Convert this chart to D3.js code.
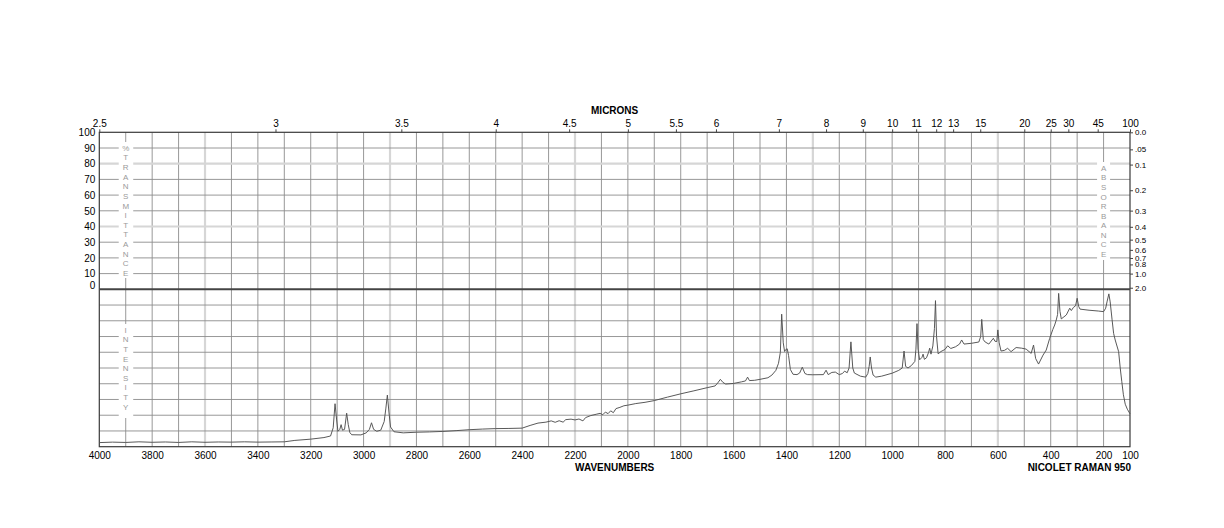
<!DOCTYPE html>
<html>
<head>
<meta charset="utf-8">
<script src="https://cdn.jsdelivr.net/npm/d3@7"></script>
<style>
  html, body { margin: 0; padding: 0; background: #fff; }
  svg { display: block; font-family: "Liberation Sans", Arial, Helvetica, sans-serif; }
</style>
</head>
<body>
<svg id="chart" width="1224" height="528"></svg>
<script>
// ---------- data ----------
const wavenumbers = [
  4000,3950,3900,3850,3800,3750,3700,3650,3600,3550,3500,3450,3400,3350,3300,3260,3200,3150,3125,
  3115,3108,3102,3097,3090,3085,3080,3072,3064,3058,3052,3045,3010,2990,2978,2970,2962,2950,2935,
  2922,2916,2910,2904,2898,2885,2850,2800,2750,2700,2650,2600,2550,2500,2450,2400,2370,2340,2310,
  2290,2275,2260,2245,2235,2215,2200,2185,2170,2160,2140,2120,2105,2095,2085,2075,2065,2055,2045,
  2030,2015,2000,1970,1935,1900,1850,1800,1750,1700,1670,1660,1650,1640,1630,1600,1570,1555,1547,
  1540,1520,1500,1470,1455,1440,1430,1423,1418,1412,1407,1402,1397,1392,1385,1375,1360,1350,1340,
  1330,1320,1300,1260,1250,1242,1228,1215,1200,1188,1180,1170,1163,1156,1149,1143,1120,1100,1092,
  1087,1083,1078,1072,1062,1040,1000,975,962,955,949,940,927,914,910,906,902,896,887,883,878,870,
  862,858,853,846,840,836,832,826,815,800,790,778,760,745,737,728,700,672,665,661,655,648,634,617,
  611,604,600,595,588,575,563,550,531,510,493,474,465,457,446,429,417,404,392,385,379,374,370,365,
  360,350,341,328,322,314,306,300,294,289,255,220,200,192,187,180,175,168,162,156,143,137,131,125,
  118,110,100
];
const intensity = [
  2.6,2.9,2.7,3.1,2.8,3.0,2.7,3.1,2.8,3.0,2.9,3.1,2.9,3.0,3.1,4.0,4.8,5.8,6.8,
  12,27.3,17,9.8,11,14,10.5,11,21.3,14,9,7.6,7.5,8.8,11,15.2,11,9.8,10.5,
  16,24,32.8,22,12.5,9.5,8.8,9.2,9.4,9.7,10.2,10.8,11.2,11.5,11.6,11.8,13.5,15,15.6,
  16.4,15.5,16.5,15.6,17.2,17.5,17,17.6,16.4,18.5,19.8,20.6,21.2,20.3,22,21,22.8,21.6,24.2,
  25,26,26.4,27.4,28.2,29.3,31.5,33.6,35.5,37.5,38.6,40.5,42.8,40.8,39.8,40.2,41.2,41.8,44.2,
  42,42.2,42.8,43.8,45.5,48.5,53,60,84.2,66,60.5,61.8,62.2,58,49,46,45.8,46.8,50.5,
  46.5,45.8,45.7,45.8,48.6,45.8,47.2,47.4,45.8,46.5,48,47,50,66.6,50,46.8,44.8,44.2,46.5,
  51,57,50,45.5,44.2,44.8,46.7,48.5,50,60.8,51,50,51.6,54.2,62,78.2,62,55.2,56.8,58.8,55.5,56.5,
  60,62.6,58.8,64,75,92.8,70,59,60.5,61.8,64.1,62.4,63.5,65.2,67.8,65.2,65.7,66.5,70,80.9,68,66.5,65.2,68.9,
  67,66.8,74.2,66,60.8,61.2,62.5,60.4,63,62.6,62,59.3,64.6,56,52.5,58.2,61.4,68.8,74.5,77.3,80.5,84,97.4,86,
  81.2,82.5,83.7,88,86.5,88.5,89.5,94.3,89,87.4,86.7,86.2,85.8,88,92,97.1,92,81,72,67.8,60.4,50,41.3,33,
  27,23.8,20.9
];
const wnTicks = [4000,3800,3600,3400,3200,3000,2800,2600,2400,2200,2000,1800,1600,1400,1200,1000,800,600,400,200,100];
const gridWavenumbers = d3.range(3900, 100, -100);
const lightWavenumbers = [3600, 2900, 2200, 1300, 600];
const micronTicks = [2.5,3,3.5,4,4.5,5,5.5,6,7,8,9,10,11,12,13,15,20,25,30,45,100];
const transTicks = [0,10,20,30,40,50,60,70,80,90,100];
const lightTrans = [80, 40];
const intensityGrid = [10,20,30,40,50,60,70,80,90];
const absTicks = [0.0,0.05,0.1,0.2,0.3,0.4,0.5,0.6,0.7,0.8,1.0,2.0];
const absLabels = ["0.0",".05","0.1","0.2","0.3","0.4","0.5","0.6","0.7","0.8","1.0","2.0"];
const leftTopLabel = "%TRANSMITTANCE";
const leftBottomLabel = "INTENSITY";
const rightLabel = "ABSORBANCE";

// ---------- layout ----------
const L = 99.3, R = 1130, T = 132.3, M = 289.3, B = 446.7;
const svg = d3.select("#chart");
svg.append("rect").attr("width",1224).attr("height",528).attr("fill","#fff");

const x = d3.scaleLinear().domain([4000,100]).range([L,R]);
const yT = d3.scaleLinear().domain([0,100]).range([M,T]);
const yI = d3.scaleLinear().domain([0,100]).range([B,M]);
const absToT = a => 100*Math.pow(10,-a);

const gridColor = "#8c8c8c";
const lightColor = "#d6d6d6";

const g = svg.append("g");
// vertical grid lines
g.selectAll("line.v").data(gridWavenumbers).enter().append("line")
  .attr("x1", d=>x(d)).attr("x2", d=>x(d)).attr("y1", T).attr("y2", B)
  .attr("stroke", d=> lightWavenumbers.includes(d) ? lightColor : gridColor)
  .attr("stroke-width", d=> lightWavenumbers.includes(d) ? 2.2 : 0.9);
// horizontal grid lines, upper panel
g.selectAll("line.ht").data(transTicks.filter(d=>d>0 && d<100)).enter().append("line")
  .attr("x1", L).attr("x2", R).attr("y1", d=>yT(d)).attr("y2", d=>yT(d))
  .attr("stroke", d=> lightTrans.includes(d) ? lightColor : gridColor)
  .attr("stroke-width", d=> lightTrans.includes(d) ? 2.2 : 0.9);
// horizontal grid lines, lower panel
g.selectAll("line.hi").data(intensityGrid).enter().append("line")
  .attr("x1", L).attr("x2", R).attr("y1", d=>yI(d)).attr("y2", d=>yI(d))
  .attr("stroke", gridColor).attr("stroke-width", 0.9);

// white boxes behind vertical side labels
function sideLabel(letters, xc, yStart, step, box) {
  svg.append("rect").attr("x", box[0]).attr("y", box[1]).attr("width", box[2]-box[0]).attr("height", box[3]-box[1]).attr("fill","#fff");
  svg.append("g").selectAll("text").data(letters.split("")).enter().append("text")
    .attr("x", xc).attr("y", (d,i)=> yStart + i*step)
    .attr("text-anchor","middle").attr("dominant-baseline","central")
    .attr("font-size", 8).attr("fill","#9a9a9a").text(d=>d);
}
const x3900 = x(3900), x200 = x(200);
sideLabel(leftTopLabel, x3900, 148.3, 9.63, [x3900-7, 142, x3900+7.5, 278]);
sideLabel(leftBottomLabel, x3900, 330.2, 9.6, [x3900-7, 324, x3900+7.5, 418]);
sideLabel(rightLabel, x200, 168.3, 9.57, [x200-6.5, 162, x200+6.5, 260]);

// borders
svg.append("rect").attr("x",L).attr("y",T).attr("width",R-L).attr("height",B-T)
  .attr("fill","none").attr("stroke","#3a3a3a").attr("stroke-width",1.2);
svg.append("line").attr("x1",L).attr("x2",R).attr("y1",M).attr("y2",M)
  .attr("stroke","#444").attr("stroke-width",2);

// spectrum
const pts = wavenumbers.map((w,i)=>[w,intensity[i]]);
svg.append("path").datum(pts)
  .attr("d", d3.line().x(d=>x(d[0])).y(d=>yI(d[1])))
  .attr("fill","none").attr("stroke","#505050").attr("stroke-width",0.95);

// ---------- axes ----------
const fontSize = 10;
// bottom wavenumber axis
const ax = svg.append("g").attr("transform",`translate(0,${B})`)
  .call(d3.axisBottom(x).tickValues(wnTicks).tickSize(0).tickPadding(5).tickFormat(d3.format("d")));
ax.select(".domain").remove();
ax.selectAll("text").attr("font-size",fontSize).attr("fill","#000").attr("font-family",null);

// top micron axis
const at = svg.append("g").attr("transform",`translate(0,${T})`)
  .call(d3.axisTop(x).tickValues(micronTicks.map(m=>10000/m)).tickSize(3).tickPadding(2)
    .tickFormat((d,i)=> String(micronTicks[i])));
at.select(".domain").remove();
at.selectAll("line").attr("stroke","#444");
at.selectAll("text").attr("font-size",fontSize).attr("fill","#000").attr("font-family",null);

// left transmittance axis
const al = svg.append("g").attr("transform",`translate(${L},0)`)
  .call(d3.axisLeft(yT).tickValues(transTicks).tickSize(0).tickPadding(4).tickFormat(d3.format("d")));
al.select(".domain").remove();
al.selectAll("text").attr("font-size",fontSize).attr("fill","#000").attr("font-family",null)
  .attr("dy", d => d===0 ? "-0.05em" : "0.32em");

// right absorbance axis
const ar = svg.append("g").attr("transform",`translate(${R},0)`)
  .call(d3.axisRight(yT).tickValues(absTicks.map(absToT)).tickSize(3).tickPadding(2)
    .tickFormat((d,i)=> absLabels[i]));
ar.select(".domain").remove();
ar.selectAll("line").attr("stroke","#444");
ar.selectAll("text").attr("font-size",8).attr("fill","#000").attr("font-family",null);

// titles
svg.append("text").attr("x",(L+R)/2).attr("y",114).attr("text-anchor","middle")
  .attr("font-size",10).attr("font-weight","bold").text("MICRONS");
svg.append("text").attr("x",(L+R)/2).attr("y",471).attr("text-anchor","middle")
  .attr("font-size",10).attr("font-weight","bold").text("WAVENUMBERS");
svg.append("text").attr("x",R+1).attr("y",471).attr("text-anchor","end")
  .attr("font-size",10).attr("font-weight","bold").text("NICOLET RAMAN 950");
</script>
</body>
</html>
